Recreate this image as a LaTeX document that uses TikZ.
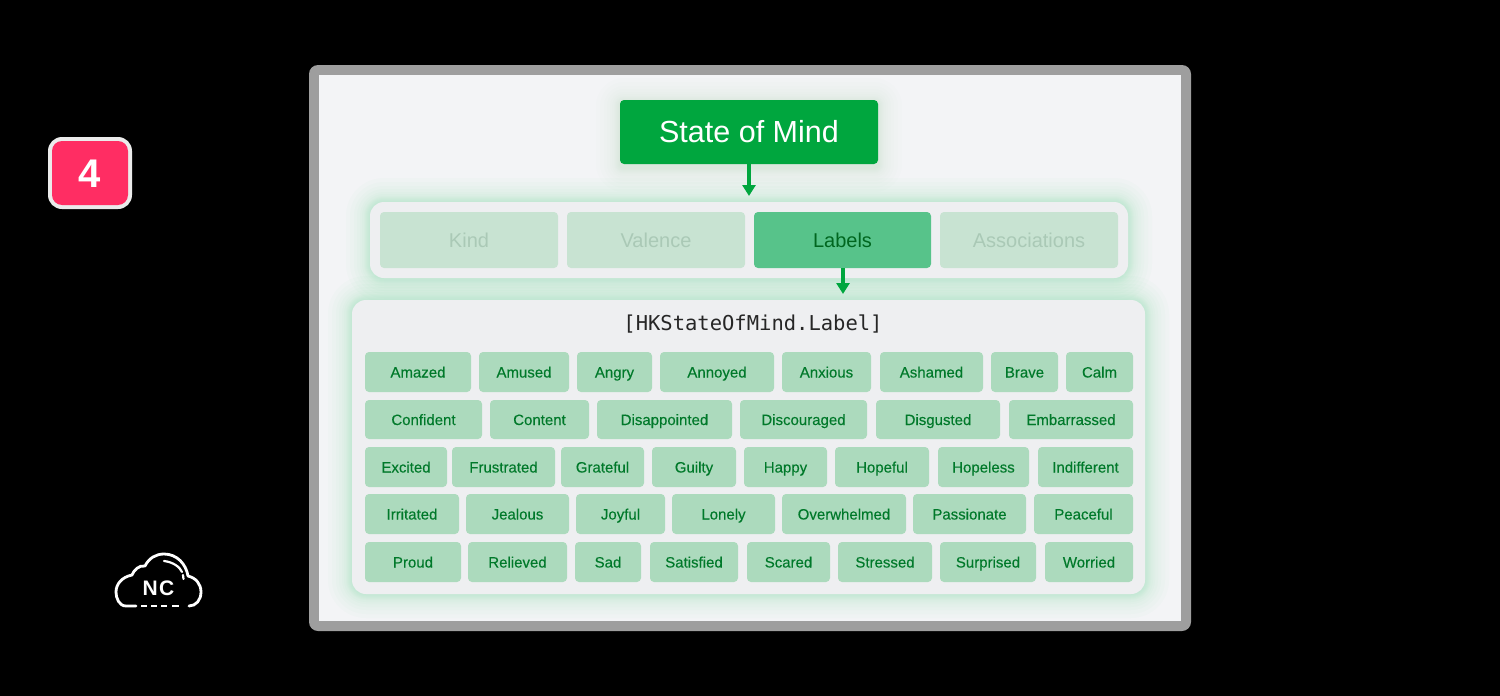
\documentclass[tikz,border=0pt]{standalone}
\usepackage{fontspec}
\setmainfont{Liberation Sans}
\newfontfamily\monof{DejaVu Sans Mono}
\newfontfamily\chipf[FakeBold=0.25]{Liberation Sans}
\usetikzlibrary{arrows.meta}
\definecolor{framegray}{HTML}{9E9E9E}
\definecolor{paper}{HTML}{F3F4F6}
\definecolor{panel}{HTML}{EEEFF1}
\definecolor{brandgreen}{HTML}{00A63E}
\definecolor{chipfill}{HTML}{ACDABD}
\definecolor{chiptext}{HTML}{00792A}
\definecolor{fadefill}{HTML}{C8E3D2}
\definecolor{fadetext}{HTML}{AAC9B6}
\definecolor{activefill}{HTML}{57C38A}
\definecolor{activetext}{HTML}{00661F}
\definecolor{glowc}{HTML}{4CCB88}
\definecolor{badge}{HTML}{FF2D63}
\tikzset{
  x=1pt,y=-1pt,
  box/.style={rectangle,rounded corners=4pt,inner sep=0pt,align=center},
  chip/.style={box,fill=chipfill,text=chiptext,text height=11pt,text depth=0pt,font=\chipf\fontsize{15}{18}\selectfont},
  tab/.style={box,fill=fadefill,text=fadetext,text height=14.5pt,text depth=0pt,font=\fontsize{20}{24}\selectfont},
  tabon/.style={box,fill=activefill,text=activetext,text height=14.5pt,text depth=0pt,font=\fontsize{20}{24}\selectfont},
  panelbox/.style={rectangle,rounded corners=14pt,fill=panel,inner sep=0pt},
  flow/.style={draw=brandgreen,line width=3.2pt,-{Triangle[length=11pt,width=13pt]},shorten >=0pt},
  cloudline/.style={draw=white,line width=2.8pt,line cap=round,line join=round},
}
\newcommand{\place}[7][]{%
  \node[#2,#1,minimum width={(#5-#4)*1pt},minimum height={(#7-#6)*1pt}] (#3) at ({(#4+#5)/2},{(#6+#7)/2})}
\newcommand{\glow}[6]{%
  \foreach \g in {1,2,3,4,5,6,8,10,13,16,20,24}{%
    \fill[glowc,opacity=#6,rounded corners={(#5+\g)*1pt}] (#1-\g,#2-\g) rectangle (#3+\g,#4+\g);}}
\newcommand{\chiprow}[3]{%
  \foreach \nm/\a/\b/\lab in {#3}{\place{chip}{\nm}{\a}{\b}{#1}{#2}{\lab};}}
\begin{document}
\begin{tikzpicture}
\useasboundingbox (0,0) rectangle (1500,696);
\fill[black] (0,0) rectangle (1500,696);
% frame
\fill[framegray,rounded corners=9pt] (309,65) rectangle (1191,631);
\fill[paper] (319,75) rectangle (1181,621);
% badge
\fill[white!92!black,rounded corners=14pt] (48,137) rectangle (132,209);
\place{box,rounded corners=10pt,fill=badge,text=white,text height=29pt,text depth=0pt,font=\bfseries\fontsize{40}{44}\selectfont}{badgenode}{52}{128}{141}{205}{4};
% cloud
\draw[cloudline] (136,606) -- (126,606)
  .. controls (119,606) and (116,598) .. (116,592)
  .. controls (116,584) and (122,577) .. (132,575)
  .. controls (134,570) and (139,565) .. (145,566)
  .. controls (149,558) and (156,554) .. (164,554)
  .. controls (177,554) and (186,564) .. (188,576)
  .. controls (196,578) and (201,584) .. (201,592)
  .. controls (201,600) and (196,606) .. (189,606);
\draw[cloudline,line width=2.2pt] (164,561) .. controls (173,562) and (180,567) .. (182,572);
\draw[cloudline,line width=2.2pt] (183,575) -- (183.5,579);
\foreach \u/\v in {141/147,151/157,161/167,172/179}{\draw[cloudline,line cap=butt] (\u,606) -- (\v,606);}
\node[text=white,inner sep=0pt,text height=15pt,text depth=0pt,font=\bfseries\fontsize{21}{24}\selectfont] (ncnode) at (158.5,587.5) {N\kern1.5pt C};
% panel glows
\glow{370}{202}{1128}{278}{14}{0.024}
\glow{352}{300}{1145}{594}{14}{0.024}
\glow{620}{102}{878}{168}{4}{0.010}
\place{panelbox}{tabpanel}{370}{1128}{202}{278}{};
\place{panelbox}{listpanel}{352}{1145}{300}{594}{};
% state
\place{box,fill=brandgreen,text=white,text height=21.5pt,text depth=0pt,font=\fontsize{30.5}{36}\selectfont}{state}{620}{878}{100}{164}{State of Mind};
% tabs
\place{tab}{kind}{380}{558}{212}{268}{Kind};
\place{tab}{valence}{567}{745}{212}{268}{Valence};
\place{tabon}{labels}{754}{931}{212}{268}{Labels};
\place{tab}{assoc}{940}{1118}{212}{268}{Associations};
% title
\node[inner sep=0pt,text=black!85,font=\monof\fontsize{20.5}{25}\selectfont] (listtitle) at (753,324.5) {[HKStateOfMind.Label]};
% chips
\chiprow{352}{392}{amazed/365/471/Amazed,amused/479/569/Amused,angry/577/652/Angry,annoyed/660/774/Annoyed,anxious/782/871/Anxious,ashamed/880/983/Ashamed,brave/991/1058/Brave,calm/1066/1133/Calm}
\chiprow{400}{439}{confident/365/482/Confident,content/490/589/Content,disappointed/597/732/Disappointed,discouraged/740/867/Discouraged,disgusted/876/1000/Disgusted,embarrassed/1009/1133/Embarrassed}
\chiprow{447}{487}{excited/365/447/Excited,frustrated/452/555/Frustrated,grateful/561/644/Grateful,guilty/652/736/Guilty,happy/744/827/Happy,hopeful/835/929/Hopeful,hopeless/938/1029/Hopeless,indifferent/1038/1133/Indifferent}
\chiprow{494}{534}{irritated/365/459/Irritated,jealous/466/569/Jealous,joyful/576/665/Joyful,lonely/672/775/Lonely,overwhelmed/782/906/Overwhelmed,passionate/913/1026/Passionate,peaceful/1034/1133/Peaceful}
\chiprow{542}{582}{proud/365/461/Proud,relieved/468/567/Relieved,sad/575/641/Sad,satisfied/650/738/Satisfied,scared/747/830/Scared,stressed/838/932/Stressed,surprised/940/1036/Surprised,worried/1045/1133/Worried}
% connectors
\coordinate (tabin) at (749,196);
\coordinate (listin) at (843,294);
\draw[flow] (state.south -| tabin) -- (tabin);
\draw[flow] (labels.south -| listin) -- (listin);
\end{tikzpicture}
\end{document}
